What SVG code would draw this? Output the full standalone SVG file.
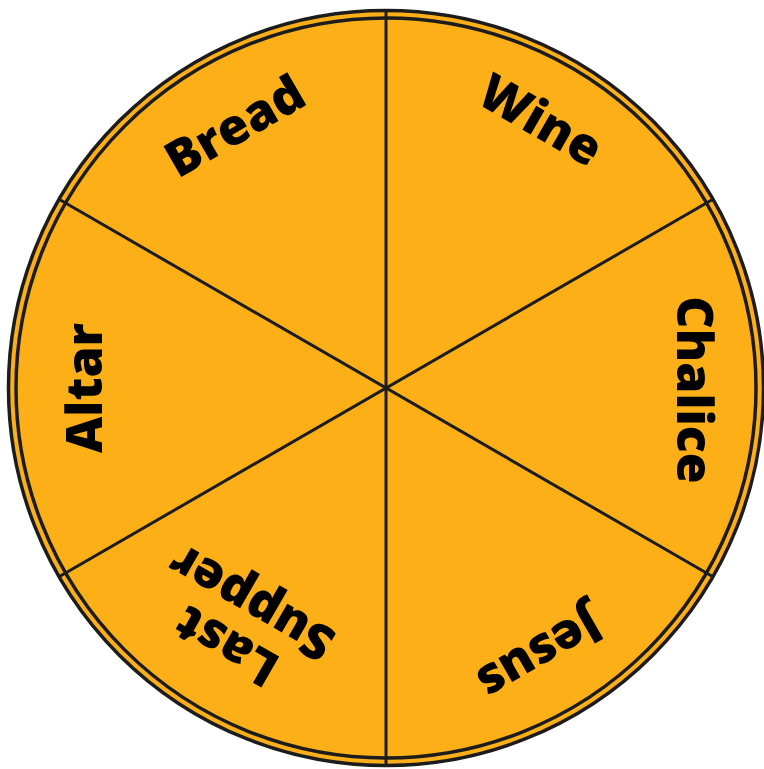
<svg xmlns="http://www.w3.org/2000/svg" width="764" height="769" viewBox="0 0 764 769">
<style>
.ring{fill:none;stroke:#1c1c1c;stroke-width:3.5}
.spoke{stroke:#1c1c1c;stroke-width:3}
.lbl{font-family:"Open Sans","Noto Sans","Liberation Sans",sans-serif;font-weight:800;font-size:50px;fill:#000;text-anchor:middle}
</style>
<rect width="764" height="769" fill="#ffffff"/>
<g id="wheel">
<circle cx="386" cy="388" r="378" fill="#fcaf17"/>
<circle class="ring" cx="386" cy="388" r="377.5"/>
<circle class="ring" cx="386" cy="388" r="370"/>
</g>
<g id="connectors">
<line class="spoke" x1="386" y1="10" x2="386" y2="766"/>
<line class="spoke" x1="58.6" y1="199" x2="713.4" y2="577"/>
<line class="spoke" x1="58.6" y1="577" x2="713.4" y2="199"/>
</g>
<g id="bread" transform="translate(386,388) rotate(-30)"><text class="lbl" x="0" y="-285">Bread</text></g>
<g id="wine" transform="translate(386,388) rotate(30)"><text class="lbl" x="0" y="-292">Wine</text></g>
<g id="chalice" transform="translate(386,388) rotate(90)"><text class="lbl" x="2" y="-291">Chalice</text></g>
<g id="jesus" transform="translate(386,388) rotate(150)"><text class="lbl" x="0" y="-290">Jesus</text></g>
<g id="last-supper" transform="translate(386,388) rotate(210)"><text class="lbl" x="9" y="-286">Last</text><text class="lbl" x="9" y="-236">Supper</text></g>
<g id="altar" transform="translate(386,388) rotate(-90)"><text class="lbl" x="0" y="-284">Altar</text></g>
</svg>
